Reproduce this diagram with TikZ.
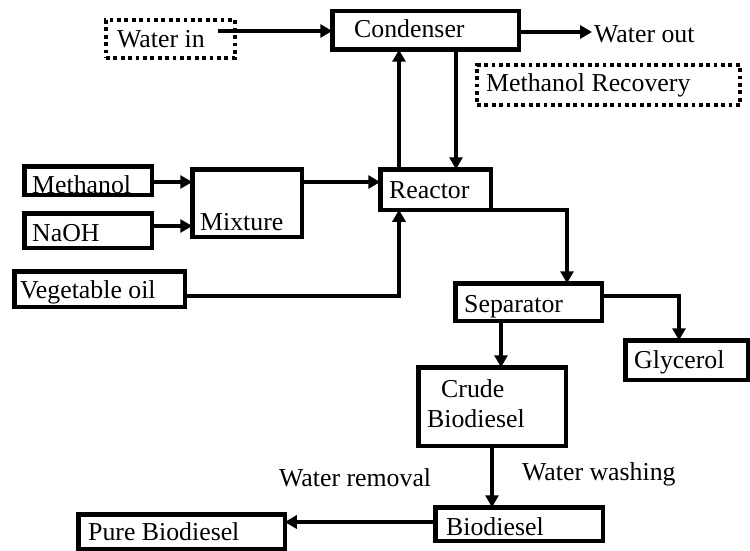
\documentclass[tikz,border=0pt]{standalone}
\usepackage{fontspec}
\setmainfont{Liberation Serif}
\usetikzlibrary{arrows.meta}
\begin{document}
\begin{tikzpicture}[x=1pt,y=-1pt,
  box/.style={draw, line width=4.5pt, inner sep=0pt, outer sep=0pt},
  dotbox/.style={draw, line width=3.8pt, dash pattern=on 3.8pt off 3.6pt, inner sep=0pt, outer sep=0pt},
  lbl/.style={anchor=base west, inner sep=0pt, font=\fontsize{25.8}{30}\selectfont},
  arr/.style={line width=3.8pt, -{Triangle[length=12pt,width=13pt]}}]
\useasboundingbox (0,0) rectangle (750,551);
% boxes
\node[dotbox, minimum width=129pt, minimum height=38pt] (waterin) at (170.5,39) {};
\node[box, minimum width=186.5pt, minimum height=38.5pt] (condenser) at (425.5,30.5) {};
\node[dotbox, minimum width=263pt, minimum height=40pt] (methrec) at (608.5,85) {};
\node[box, minimum width=110.5pt, minimum height=40.5pt] (reactor) at (435.5,189.5) {};
\node[box, minimum width=127.5pt, minimum height=28.5pt] (methanol) at (88,180.5) {};
\node[box, minimum width=127.5pt, minimum height=34.5pt] (naoh) at (88,230.5) {};
\node[box, minimum width=109.5pt, minimum height=67.5pt] (mixture) at (247,203) {};
\node[box, minimum width=170.5pt, minimum height=35.5pt] (vegoil) at (99.5,289) {};
\node[box, minimum width=146.5pt, minimum height=37.5pt] (separator) at (528.5,302) {};
\node[box, minimum width=122.5pt, minimum height=39.5pt] (glycerol) at (686.5,360) {};
\node[box, minimum width=147.5pt, minimum height=78.5pt] (crude) at (492,406.5) {};
\node[box, minimum width=167.5pt, minimum height=33.5pt] (biodiesel) at (519,524) {};
\node[box, minimum width=206.5pt, minimum height=34.5pt] (pure) at (181.5,531.5) {};
% labels
\node[lbl] (twaterin) at (117,48) {Water in};
\node[lbl] (tcondenser) at (354,38) {Condenser};
\node[lbl] (wout) at (594,43) {Water out};
\node[lbl] (tmethrec) at (486,92) {Methanol Recovery};
\node[lbl] (treactor) at (389,198) {Reactor};
\node[lbl] (tmethanol) at (32,193) {Methanol};
\node[lbl] (tnaoh) at (32,241) {NaOH};
\node[lbl] (tmixture) at (200,230) {Mixture};
\node[lbl] (tvegoil) at (20,298) {Vegetable oil};
\node[lbl] (tseparator) at (464,312) {Separator};
\node[lbl] (tglycerol) at (634,368) {Glycerol};
\node[lbl] (tcrude1) at (441,397) {Crude};
\node[lbl] (tcrude2) at (427,427) {Biodiesel};
\node[lbl] (tbiodiesel) at (446,535) {Biodiesel};
\node[lbl] (tpure) at (88,540) {Pure Biodiesel};
\node[lbl] (tremoval) at (279,486) {Water removal};
\node[lbl] (twashing) at (522,480) {Water washing};
% helper coordinates
\coordinate (wi) at (218,31);
\coordinate (wo) at (0,32);
\coordinate (xa) at (399,0);
\coordinate (xb) at (456,0);
\coordinate (ym) at (0,182);
\coordinate (yn) at (0,226);
\coordinate (yv) at (0,296);
\coordinate (xs) at (567,0);
\coordinate (xg) at (679,0);
\coordinate (xc) at (501,0);
\coordinate (xd) at (492,0);
\coordinate (yp) at (0,522);
% connectors
\draw[arr] (wi) -- (wi -| condenser.west);
\draw[arr] (condenser.east |- wo) -- ([xshift=-2pt]wout.west |- wo);
\draw[arr] (reactor.north -| xa) -- (condenser.south -| xa);
\draw[arr] (condenser.south -| xb) -- (reactor.north -| xb);
\draw[arr] (methanol.east |- ym) -- (mixture.west |- ym);
\draw[arr] (naoh.east |- yn) -- (mixture.west |- yn);
\draw[arr] (mixture.east |- ym) -- (reactor.west |- ym);
\draw[arr] (vegoil.east |- yv) -| (reactor.south -| xa);
\draw[arr] (reactor.south east) -| (separator.north -| xs);
\draw[arr] (separator.east |- yv) -| (glycerol.north -| xg);
\draw[arr] (separator.south -| xc) -- (crude.north -| xc);
\draw[arr] (crude.south -| xd) -- (biodiesel.north -| xd);
\draw[arr] (biodiesel.west |- yp) -- (pure.east |- yp);
\end{tikzpicture}
\end{document}
